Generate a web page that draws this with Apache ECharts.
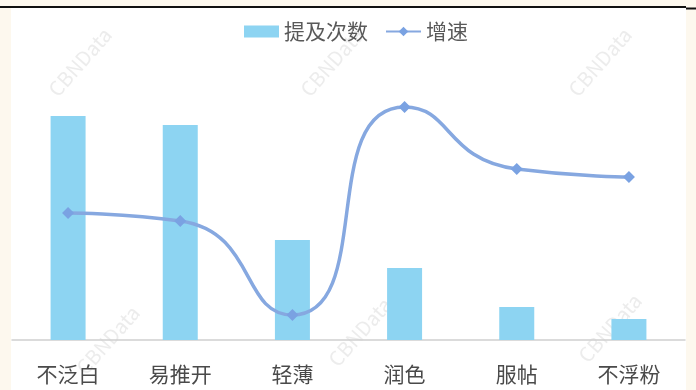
<!DOCTYPE html>
<html>
<head>
<meta charset="utf-8">
<script src="https://cdn.jsdelivr.net/npm/echarts@6/dist/echarts.min.js"></script>
<style>
html,body{margin:0;padding:0;background:#fdf8ee;}
#c{width:696px;height:390px;}
</style>
</head>
<body>
<div id="c"></div>
<script>
const categories = ['不泛白', '易推开', '轻薄', '润色', '服帖', '不浮粉'];
const mentionCounts = [224, 215, 100, 72, 33, 21];
const growthRates = [127, 119, 25, 233, 171, 163];
const legendNames = ['提及次数', '增速'];
const watermarkText = 'CBNData';
const watermarkSpots = [[80, 62], [332, 62], [600, 62], [108, 340], [360, 332], [610, 328]];

const FONT = '"Noto Sans CJK SC", "Noto Sans", sans-serif';
const chart = echarts.init(document.getElementById('c'), null, {renderer: 'canvas'});

const graphics = [
  {type: 'rect', shape: {x: 11, y: 8, width: 675, height: 382}, style: {fill: '#ffffff'}, z: -10},
  {type: 'line', shape: {x1: 0, y1: 7, x2: 686, y2: 7}, style: {stroke: '#111', lineWidth: 2}, z: -9},
  {type: 'line', shape: {x1: 686, y1: 8.5, x2: 696, y2: 8.5}, style: {stroke: '#111', lineWidth: 2}, z: -9}
];
watermarkSpots.forEach(p => {
  graphics.push({
    type: 'text', x: p[0], y: p[1], rotation: Math.PI * 0.27,
    style: {text: watermarkText, fill: 'rgba(200,200,200,0.35)', font: '20px ' + FONT, align: 'center', verticalAlign: 'middle'},
    z: -5
  });
});

chart.setOption({
  animation: false,
  backgroundColor: 'transparent',
  graphic: graphics,
  legend: {
    left: 239, top: 16,
    itemWidth: 35, itemHeight: 12, itemGap: 17,
    textStyle: {fontSize: 21, color: '#595959', fontFamily: FONT},
    data: [{name: legendNames[0], icon: 'rect'}, {name: legendNames[1]}]
  },
  grid: {left: 12, right: 11, top: 90, bottom: 50, containLabel: false},
  xAxis: {
    type: 'category', data: categories,
    axisLine: {lineStyle: {color: '#cfcfcf', width: 1.5}},
    axisTick: {show: false},
    axisLabel: {fontSize: 21, color: '#4a4a4a', fontFamily: FONT, margin: 24}
  },
  yAxis: [
    {type: 'value', min: 0, max: 250, show: false, splitLine: {show: false}},
    {type: 'value', min: 0, max: 250, show: false, splitLine: {show: false}}
  ],
  series: [
    {
      name: legendNames[0], type: 'bar', data: mentionCounts, barWidth: 35,
      itemStyle: {color: '#8dd4f2'}
    },
    {
      name: legendNames[1], type: 'line', yAxisIndex: 1, data: growthRates,
      smooth: 0.6, symbol: 'diamond', symbolSize: 12,
      lineStyle: {color: '#86a8e0', width: 3.5},
      itemStyle: {color: '#7aa2e2'}
    }
  ]
});
</script>
</body>
</html>
